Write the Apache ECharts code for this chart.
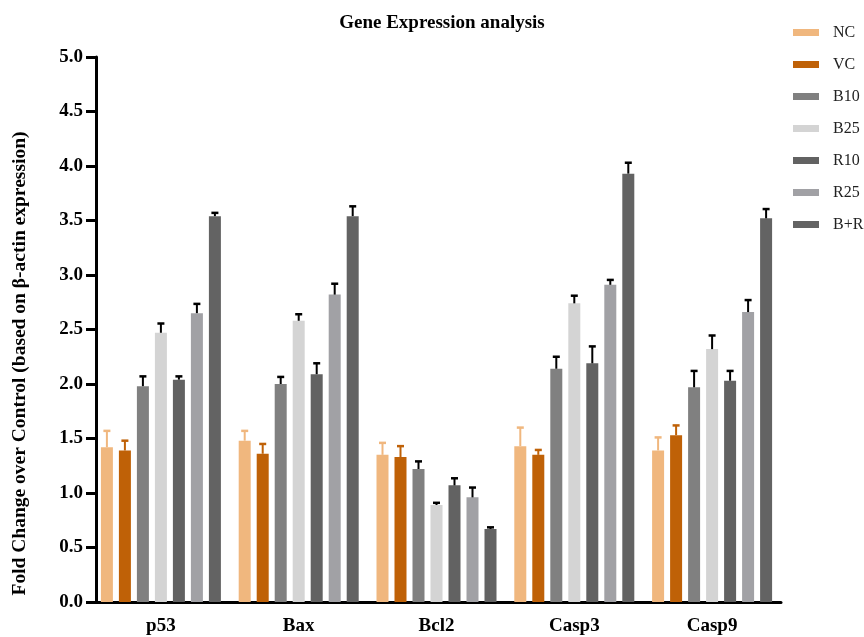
<!DOCTYPE html>
<html>
<head>
<meta charset="utf-8">
<script src="https://cdn.jsdelivr.net/npm/echarts@6/dist/echarts.min.js"></script>
<style>html,body{margin:0;padding:0;background:#fff}#c{width:864px;height:637px}</style>
</head>
<body>
<div id="c"></div>
<script>
const categories = ['p53', 'Bax', 'Bcl2', 'Casp3', 'Casp9'];
const seriesNames = ['NC', 'VC', 'B10', 'B25', 'R10', 'R25', 'B+R'];
const NC = [1.42, 1.48, 1.35, 1.43, 1.39];
const NC_err = [0.15, 0.09, 0.11, 0.17, 0.12];
const VC = [1.39, 1.36, 1.33, 1.35, 1.53];
const VC_err = [0.09, 0.09, 0.10, 0.045, 0.09];
const B10 = [1.98, 2.00, 1.22, 2.14, 1.97];
const B10_err = [0.09, 0.065, 0.07, 0.11, 0.15];
const B25 = [2.47, 2.58, 0.89, 2.74, 2.32];
const B25_err = [0.085, 0.06, 0.02, 0.07, 0.125];
const R10 = [2.04, 2.09, 1.07, 2.19, 2.03];
const R10_err = [0.03, 0.10, 0.065, 0.155, 0.09];
const R25 = [2.65, 2.82, 0.96, 2.91, 2.66];
const R25_err = [0.085, 0.10, 0.09, 0.045, 0.11];
const BR = [3.54, 3.54, 0.67, 3.93, 3.52];
const BR_err = [0.03, 0.09, 0.015, 0.10, 0.085];
const yTicks = ['0.0', '0.5', '1.0', '1.5', '2.0', '2.5', '3.0', '3.5', '4.0', '4.5', '5.0'];

const values = [NC, VC, B10, B25, R10, R25, BR];
const errors = [NC_err, VC_err, B10_err, B25_err, R10_err, R25_err, BR_err];
const colors = ['#F0B77E', '#BF6107', '#808080', '#D4D4D4', '#626262', '#A1A1A5', '#636363'];
const errColors = ['#F0B77E', '#BF6107', '#000', '#000', '#000', '#000', '#000'];

const BAR_W = 12, PITCH = 18;
const FONT = '"Liberation Serif", "Times New Roman", serif';

const series = [];
values.forEach((vals, i) => {
  series.push({
    name: seriesNames[i], type: 'bar', data: vals,
    barWidth: BAR_W, barGap: '50%',
    itemStyle: { color: colors[i] },
    z: 2
  });
});
values.forEach((vals, i) => {
  const off = (i - 3) * PITCH;
  series.push({
    type: 'custom',
    name: seriesNames[i] + ' err',
    data: vals.map((v, k) => [k, v, errors[i][k]]),
    z: 3,
    silent: true,
    renderItem: (params, api) => {
      const c = api.value(0), v = api.value(1), e = api.value(2);
      const p0 = api.coord([c, v]);
      const p1 = api.coord([c, v + e]);
      const x = p0[0] + off;
      return {
        type: 'group',
        children: [
          { type: 'line', shape: { x1: x, y1: p0[1], x2: x, y2: p1[1] }, style: { stroke: errColors[i], lineWidth: 2 } },
          { type: 'line', shape: { x1: x - 3.5, y1: p1[1], x2: x + 3.5, y2: p1[1] }, style: { stroke: errColors[i], lineWidth: 2.5 } }
        ]
      };
    }
  });
});

const chart = echarts.init(document.getElementById('c'), null, { renderer: 'canvas' });
chart.setOption({
  backgroundColor: '#fff',
  animation: false,
  title: {
    text: 'Gene Expression analysis',
    left: 437, top: 9, textAlign: 'center',
    textStyle: { fontFamily: FONT, fontWeight: 'bold', fontSize: 19, color: '#000' }
  },
  legend: {
    orient: 'vertical',
    left: 793, top: 24, padding: 0,
    itemWidth: 26, itemHeight: 7, itemGap: 15,
    icon: 'rect',
    data: seriesNames,
    textStyle: { fontFamily: FONT, fontSize: 16, color: '#222', padding: [0, 0, 0, 9], lineHeight: 17 }
  },
  grid: { left: 92, right: 83, top: 57, bottom: 35, containLabel: false },
  xAxis: {
    type: 'category', data: categories,
    axisLine: { lineStyle: { color: '#000', width: 3 } },
    axisTick: { alignWithLabel: true, length: 9, lineStyle: { color: '#000', width: 3 } },
    axisLabel: { margin: 15, fontFamily: FONT, fontWeight: 'bold', fontSize: 19, color: '#000' }
  },
  yAxis: {
    type: 'value', min: 0, max: 5, interval: 0.5,
    offset: -4,
    name: 'Fold Change over Control (based on β-actin expression)',
    nameLocation: 'middle', nameGap: 66, nameRotate: 90,
    nameTextStyle: { fontFamily: FONT, fontWeight: 'bold', fontSize: 19.5, color: '#000', padding: [0, 68, 0, 0] },
    axisLine: { show: true, lineStyle: { color: '#000', width: 3 } },
    axisTick: { show: true, length: 10, lineStyle: { color: '#000', width: 3 } },
    splitLine: { show: false },
    axisLabel: {
      margin: 13, fontFamily: FONT, fontWeight: 'bold', fontSize: 19, color: '#000',
      formatter: (v) => yTicks[Math.round(v / 0.5)]
    }
  },
  series: series
});
</script>
</body>
</html>
